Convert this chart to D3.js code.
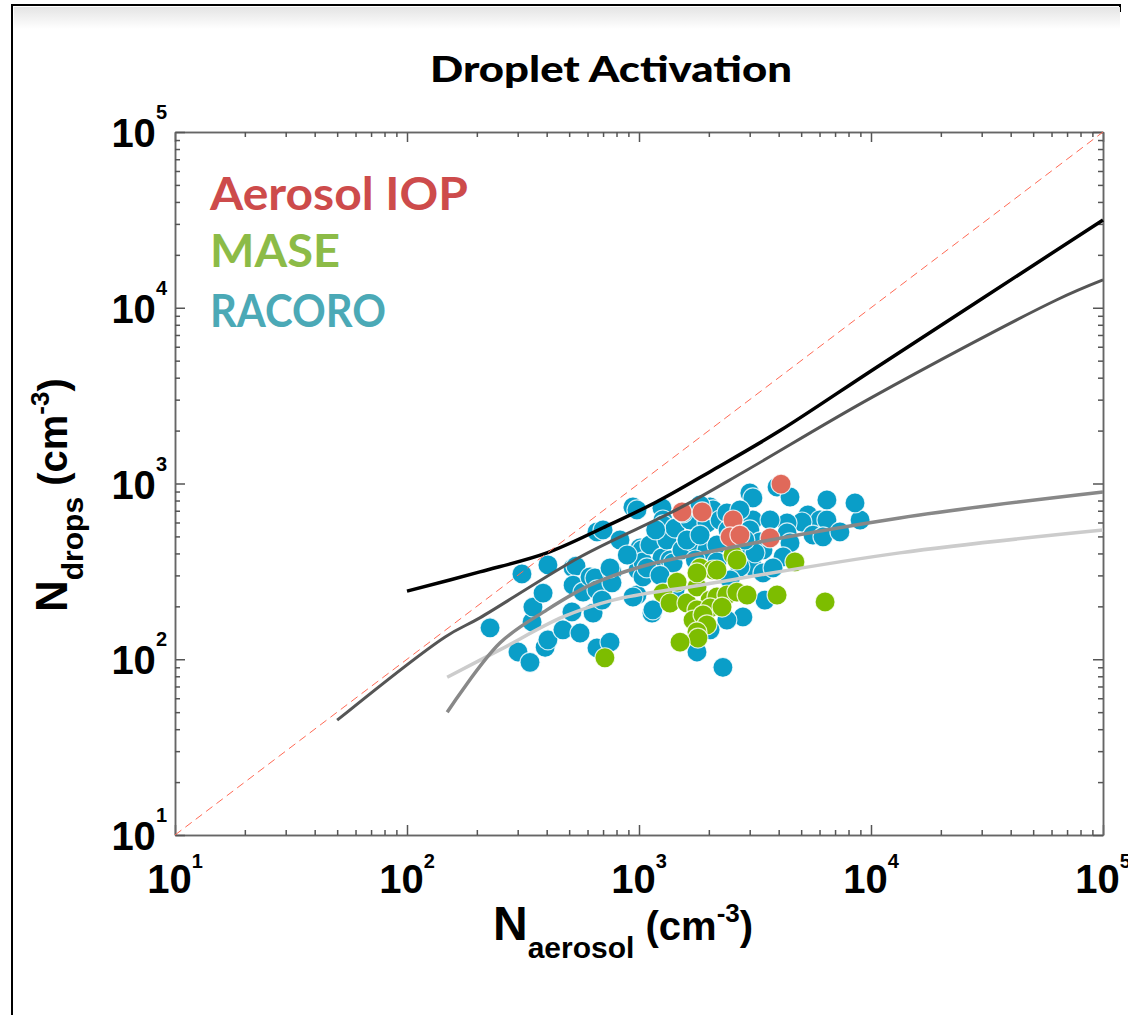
<!DOCTYPE html>
<html>
<head>
<meta charset="utf-8">
<script src="https://cdn.jsdelivr.net/npm/d3@7"></script>
<style>
  body { margin: 0; background: #fff; }
  svg text { font-family: "Liberation Sans", Arial, sans-serif; }
</style>
</head>
<body>
<div class="chart-container"></div>
<script>
// tick values / labels
const majorTicks = [10, 100, 1000, 10000, 100000];
const majorExp = ['1', '2', '3', '4', '5'];

// legend
const legendNames = ['Aerosol IOP', 'MASE', 'RACORO'];
const legendColors = ['#cd4b4b', '#8cbb47', '#4ba9b6'];

// RACORO (blue) : [N_aerosol, N_drops]
const racoroPts = [
  [228,151],[313,306],[346,163],[349,198],[386,238],[394,117],[405,129],[301,110],[339,96],[405,344],
  [470,147],[514,186],[520,331],[535,339],[520,264],[557,141],[574,241],[615,294],[634,183],[646,290],
  [659,530],[700,544],[659,248],[659,116],[693,217],[750,125],[765,314],[765,272],[942,735],[980,707],
  [980,232],[990,322],[1010,430],[1030,419],[1040,358],[1040,294],[1115,447],[1138,183],[1148,191],[942,226],
  [1256,726],[1268,620],[1268,581],[1256,377],[1320,477],[1361,367],[1403,353],[1430,558],[1532,419],[1660,620],
  [1710,465],[1610,477],[1833,322],[1963,596],[1963,419],[2025,735],[2085,707],[2168,447],[2168,358],[2236,620],
  [2393,680],[3006,883],[3097,828],[3097,620],[3006,544],[3324,465],[3423,419],[3006,408],[3097,335],[3162,403],
  [3423,310],[2723,335],[3937,955],[4477,838],[5348,662],[6026,620],[6457,620],[6457,806],[5042,604],[4347,596],
  [4347,523],[4477,459],[5623,509],[6209,497],[7345,530],[8974,620],[8531,775],[4178,382],[3491,217],[2805,174],
  [2393,167],[2300,90],[1778,110],[2025,147],[3783,331],[750,331],[1082,331],[1548,680],[1833,755],
  [828,477],[890,392],[1180,544],[1833,509],[2420,544],[2723,707],[2860,477],[3673,620],[1750,367],[1232,300],
  [1430,248],[2469,283]
];

// MASE (green)
const masePts = [
  [713,102],[1268,238],[1361,209],[1459,275],[1610,209],[1778,258],[1833,331],[2085,322],[1778,310],[2168,322],
  [2543,392],[2025,217],[2168,226],[2393,232],[2643,241],[2923,232],[1778,191],[2025,196],[2280,198],[1710,167],
  [1888,179],[1963,157],[1778,143],[1795,132],[1503,125],[3937,232],[4700,358],[6339,212],[2643,367]
];

// Aerosol IOP (red)
const iopPts = [
  [1532,689],[1871,689],[2543,620],[2469,497],[2723,509],[3673,490],[4095,993]
];

// model curves
const oneToOne = [[10,10],[100000,100000]];
const curveBlack = [[100,244],[206,314],[401,403],[700,560],[1200,790],[2085,1194],[4057,2000],[10000,4370],[29500,11070],[100000,31600]];
const curveDark = [[50,45],[146,134],[206,172],[557,382],[1503,726],[2923,1194],[10000,3070],[63000,11070],[100000,14400]];
const curveMid = [[149,50],[252,124],[401,191],[615,264],[1010,335],[1710,392],[13300,637],[100000,895]];
const curveLight = [[149,79],[251,113],[470,174],[773,217],[1830,264],[13300,403],[100000,543]];

const svg_width = 1128, svg_height = 1015;
const margin = { top: 132, left: 175, right: 25, bottom: 180 };
const width = svg_width - margin.left - margin.right;
const height = svg_height - margin.top - margin.bottom;

const svg = d3.select('.chart-container').append('svg')
  .attr('width', svg_width).attr('height', svg_height);

// slide frame
const defs = svg.append('defs');
const grad = defs.append('linearGradient').attr('id', 'topShade')
  .attr('x1', 0).attr('y1', 0).attr('x2', 0).attr('y2', 1);
grad.append('stop').attr('offset', '0%').attr('stop-color', '#e4e4e4');
grad.append('stop').attr('offset', '100%').attr('stop-color', '#ffffff');
svg.append('rect').attr('x', 12).attr('y', 5).attr('width', 1108).attr('height', 1040)
  .attr('fill', '#fff').attr('stroke', '#000').attr('stroke-width', 2);
svg.append('rect').attr('x', 14).attr('y', 12).attr('width', 1114).attr('height', 1010).attr('fill', '#fff');
svg.append('rect').attr('x', 14).attr('y', 7).attr('width', 1106).attr('height', 22).attr('fill', 'url(#topShade)');

// title
svg.append('text')
  .attr('x', 611).attr('y', 82)
  .attr('text-anchor', 'middle')
  .attr('textLength', 362).attr('lengthAdjust', 'spacingAndGlyphs')
  .style('font-family', 'Lato, "Open Sans", sans-serif')
  .style('font-weight', '900').style('font-size', '36px')
  .text('Droplet Activation');

const g = svg.append('g').attr('transform', `translate(${margin.left},${margin.top})`);

const x = d3.scaleLog().domain([10, 100000]).range([0, width]);
const y = d3.scaleLog().domain([10, 100000]).range([height, 0]);

// minor ticks 2..9 per decade
const minorTicks = [];
majorTicks.slice(0, -1).forEach(m => {
  for (let k = 2; k <= 9; k++) minorTicks.push(m * k);
});

function drawAxis(axisFn, ticks, len, transform) {
  const a = axisFn.tickValues(ticks).tickSizeInner(-len).tickSizeOuter(0).tickFormat('');
  const ax = g.append('g').attr('transform', transform).call(a);
  ax.selectAll('line').attr('stroke', '#555').attr('stroke-width', 1.5);
  ax.select('.domain').attr('stroke', '#666').attr('stroke-width', 1.5);
}
drawAxis(d3.axisBottom(x), majorTicks, 10, `translate(0,${height})`);
drawAxis(d3.axisBottom(x), minorTicks, 5, `translate(0,${height})`);
drawAxis(d3.axisTop(x), majorTicks, 10, 'translate(0,0)');
drawAxis(d3.axisTop(x), minorTicks, 5, 'translate(0,0)');
drawAxis(d3.axisLeft(y), majorTicks, 10, 'translate(0,0)');
drawAxis(d3.axisLeft(y), minorTicks, 5, 'translate(0,0)');
drawAxis(d3.axisRight(y), majorTicks, 10, `translate(${width},0)`);
drawAxis(d3.axisRight(y), minorTicks, 5, `translate(${width},0)`);

// tick labels 10^n
const xLab = g.append('g').selectAll('text').data(majorTicks).enter().append('text')
  .attr('x', d => x(d)).attr('y', height + 58)
  .attr('text-anchor', 'middle')
  .style('font-weight', 'bold').style('font-size', '40px');
xLab.append('tspan').text('10');
xLab.append('tspan').attr('dy', -25).style('font-size', '20px').text((d, i) => majorExp[i]);

const yLab = g.append('g').selectAll('text').data(majorTicks).enter().append('text')
  .attr('x', -8).attr('y', d => y(d) + 15)
  .attr('text-anchor', 'end')
  .style('font-weight', 'bold').style('font-size', '40px');
yLab.append('tspan').text('10');
yLab.append('tspan').attr('dy', -28).style('font-size', '20px').text((d, i) => majorExp[i]);

// axis titles
const xt = svg.append('text').attr('x', 493).attr('y', 940)
  .style('font-weight', 'bold').style('font-size', '48px');
xt.append('tspan').text('N');
xt.append('tspan').attr('dy', 18).style('font-size', '30px').text('aerosol');
xt.append('tspan').attr('dy', -18).style('font-size', '40px').text(' (cm');
xt.append('tspan').attr('dy', -18).style('font-size', '26px').text('-3');
xt.append('tspan').attr('dy', 18).style('font-size', '40px').text(')');

const yt = svg.append('text').attr('transform', 'translate(67,612) rotate(-90)')
  .style('font-weight', 'bold').style('font-size', '44px');
yt.append('tspan').text('N');
yt.append('tspan').attr('dy', 16).style('font-size', '30px').text('drops');
yt.append('tspan').attr('dy', -16).style('font-size', '40px').text(' (cm');
yt.append('tspan').attr('dy', -18).style('font-size', '26px').text('-3');
yt.append('tspan').attr('dy', 18).style('font-size', '40px').text(')');

// scatter
const pointSets = [
  { pts: racoroPts, color: '#0a9ec8' },
  { pts: masePts, color: '#7dbd00' },
  { pts: iopPts, color: '#e0695a' }
];
pointSets.forEach(s => {
  g.append('g').selectAll('circle').data(s.pts).enter().append('circle')
    .attr('cx', d => x(d[0])).attr('cy', d => y(d[1]))
    .attr('r', 10)
    .attr('fill', s.color)
    .attr('stroke', '#fff').attr('stroke-opacity', 0.8).attr('stroke-width', 1.2);
});

// curves
const lineGen = d3.line().x(d => x(d[0])).y(d => y(d[1])).curve(d3.curveCatmullRom.alpha(0.5));
const curves = [
  { data: curveLight, color: '#cccccc', w: 3.5 },
  { data: curveMid, color: '#888888', w: 3.5 },
  { data: curveDark, color: '#555555', w: 3 },
  { data: curveBlack, color: '#000000', w: 3.5 }
];
curves.forEach(c => {
  g.append('path').attr('d', lineGen(c.data))
    .attr('fill', 'none').attr('stroke', c.color).attr('stroke-width', c.w);
});
g.append('path').attr('d', d3.line().x(d => x(d[0])).y(d => y(d[1]))(oneToOne))
  .attr('fill', 'none').attr('stroke', '#ff6a55').attr('stroke-width', 1)
  .attr('stroke-dasharray', '8,5');

// legend text
const legendY = [210, 267, 327];
const legendW = [258, 130, 176];
svg.append('g').selectAll('text').data(legendNames).enter().append('text')
  .attr('x', 210).attr('y', (d, i) => legendY[i])
  .attr('textLength', (d, i) => legendW[i]).attr('lengthAdjust', 'spacingAndGlyphs')
  .style('font-family', 'Lato, "Open Sans", sans-serif')
  .style('font-weight', 'bold').style('font-size', '46px')
  .style('fill', (d, i) => legendColors[i])
  .text(d => d);
</script>
</body>
</html>
